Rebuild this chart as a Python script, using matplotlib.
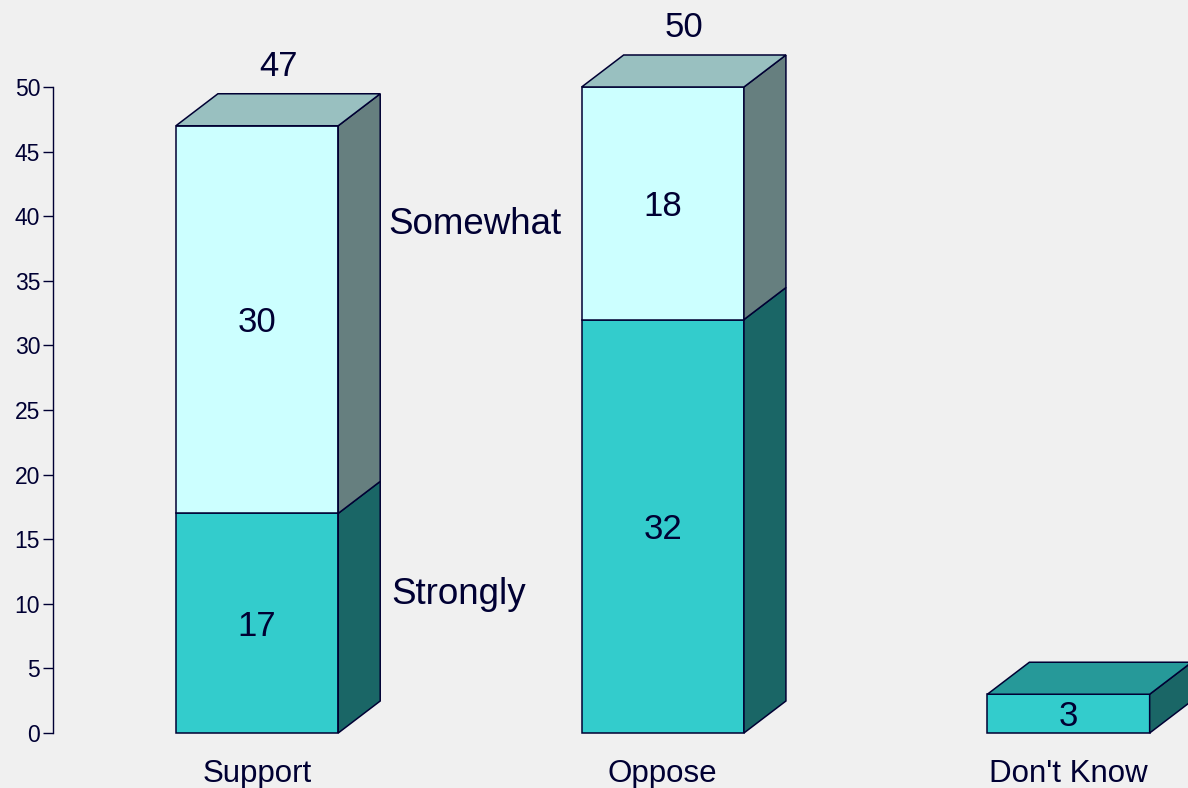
import numpy as np
import matplotlib
matplotlib.use("Agg")
from matplotlib import pyplot as plt
from matplotlib.patches import Polygon

categories = ["Support", "Oppose", "Don't Know"]
strongly = [17, 32, 3]
somewhat = [30, 18, 0]
totals = [47, 50, 3]

plt.rcParams['font.family'] = ['Liberation Sans', 'DejaVu Sans']
ink = '#000033'
bg = '#f0f0f0'

# front / side / top colours for each segment
c_strong = ('#33cccc', '#1a6666', '#269999')
c_some = ('#ccffff', '#667f7f', '#99c0c0')

fig = plt.figure(figsize=(11.88, 7.88), dpi=100, facecolor=bg)
ax = fig.add_axes([53 / 1188, 55 / 788, 1135 / 1188, 646 / 788])
ax.set_facecolor(bg)
ax.set_xlim(-0.503, 2.2945)
ax.set_ylim(0, 50)

w = 0.4
dx = 0.1035
dy = 2.477
sh = -0.25  # small downward nudge for text


def box(x, y0, y1, cols, top):
    l, r = x - w / 2, x + w / 2
    kw = dict(edgecolor=ink, linewidth=1.1, clip_on=False, joinstyle='miter')
    ax.add_patch(Polygon([(l, y0), (r, y0), (r, y1), (l, y1)], facecolor=cols[0], **kw))
    ax.add_patch(Polygon([(r, y0), (r + dx, y0 + dy), (r + dx, y1 + dy), (r, y1)],
                         facecolor=cols[1], **kw))
    if top:
        ax.add_patch(Polygon([(l, y1), (l + dx, y1 + dy), (r + dx, y1 + dy), (r, y1)],
                             facecolor=cols[2], **kw))


x = np.arange(len(categories))
for i in range(len(categories)):
    s, m = strongly[i], somewhat[i]
    box(x[i], 0, s, c_strong, m == 0)
    ax.text(x[i], s / 2 + sh, str(s), ha='center', va='center', fontsize=25, color=ink)
    if m > 0:
        box(x[i], s, s + m, c_some, True)
        ax.text(x[i], s + m / 2 + sh, str(m), ha='center', va='center', fontsize=25, color=ink)
        ax.text(x[i] + dx / 2, totals[i] + dy + 2.1, str(totals[i]), ha='center',
                va='center', fontsize=25, color=ink, clip_on=False)
    ax.text(x[i], -3.2, categories[i], ha='center', va='center', fontsize=22.5,
            color=ink, clip_on=False)

ax.text(0.323, 39.6 + sh, "Somewhat", ha='left', va='center', fontsize=26.5, color=ink)
ax.text(0.33, 11.0 + sh, "Strongly", ha='left', va='center', fontsize=26.5, color=ink)

for sp in ['top', 'right', 'bottom']:
    ax.spines[sp].set_visible(False)
ax.spines['left'].set_color(ink)
ax.spines['left'].set_linewidth(1.0)
ax.set_yticks(np.arange(0, 51, 5))
ax.set_xticks([])
ax.tick_params(axis='y', direction='out', length=7.2, width=1.0, colors=ink,
               labelsize=16.5, pad=2)

fig.savefig("out.png", dpi=100, facecolor=bg)
